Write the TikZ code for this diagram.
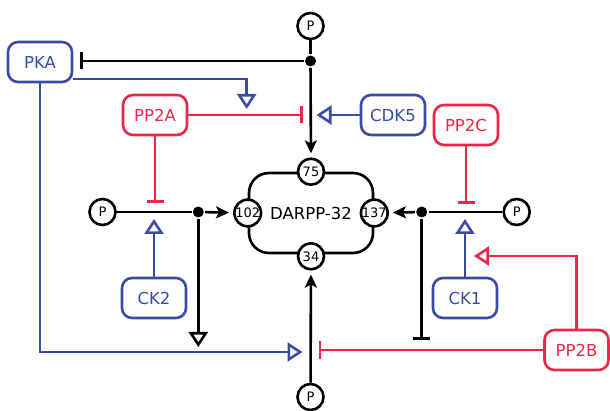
\documentclass[tikz,border=0pt]{standalone}
\usepackage{fontspec}
\setmainfont{DejaVu Sans}
\usetikzlibrary{arrows.meta, positioning, calc}
\definecolor{kinblue}{RGB}{58,76,166}
\definecolor{ppred}{RGB}{236,38,72}

\begin{document}
\begin{tikzpicture}[
    x=1pt, y=-1pt,
    line width=2.6pt,
    kin/.style={draw=kinblue, text=kinblue, rounded corners=10pt, line width=2.6pt, minimum width=64pt, minimum height=40pt, font=\fontsize{16.5}{19}\selectfont},
    pp/.style={kin, draw=ppred, text=ppred},
    site/.style={draw, circle, fill=white, minimum size=26pt, inner sep=0pt, font=\fontsize{13}{15}\selectfont},
    junc/.style={circle, fill=black, minimum size=11pt, inner sep=0pt},
    act/.style={-{Stealth[length=13pt, width=12pt, inset=3pt]}, shorten >=4pt},
    inh/.style={-{Bar[width=17pt]}},
    opn/.style={-{Triangle[open, length=15pt, width=19pt]}}
]
\useasboundingbox (0,0) rectangle (610,411);

% DARPP-32 and its sites
\node[draw, rounded corners=20pt, minimum width=124pt, minimum height=80pt, font=\fontsize{16.5}{19}\selectfont] (darpp) at (311,213) {DARPP-32};
\node[site] (s75) at (darpp.north) {75};
\node[site] (s102) at (darpp.west) {102};
\node[site] (s137) at (darpp.east) {137};
\node[site] (s34) at ([yshift=-2pt]darpp.south) {34};

\node[site] (pTop) at (310.5,26) {P};
\node[junc] (jTop) at (310.5,61) {};
\node[site] (pL) at (102.5,212) {P};
\node[junc] (jL) at (198.3,212) {};
\node[site] (pR) at (516.7,212) {P};
\node[junc] (jR) at (421.7,212) {};
\node[site] (pBot) at (310.5,397) {P};

% kinases and phosphatases
\node[kin] (pka) at (40,62) {PKA};
\node[pp] (pp2a) at (155,115) {PP2A};
\node[kin] (cdk5) at (393,115) {CDK5};
\node[pp] (pp2c) at (466,125) {PP2C};
\node[kin] (ck2) at (154,298) {CK2};
\node[kin] (ck1) at (465,298) {CK1};
\node[pp] (pp2b) at (576.5,350) {PP2B};

\coordinate (pkaHit) at (246.7,116);
\coordinate (pkaLow) at (40,352);
\coordinate (pp2bUp) at (576.5,256);

% Thr75
\draw (pTop) -- (jTop);
\draw[act] (jTop) -- (s75);
\draw[inh, shorten >=7pt] (jTop) -- (jTop -| pka.east);
\draw[opn, kinblue, shorten >=7pt] ([yshift=-17pt]pka.east) -| (pkaHit);
\draw[inh, ppred, shorten >=8pt] (pp2a.east) -- (pp2a.east -| jTop);
\draw[opn, kinblue, shorten >=6pt] (cdk5.west) -- (cdk5.west -| jTop);

% Ser102
\draw (pL) -- (jL);
\draw[act] (jL) -- (s102);
\draw[inh, ppred, shorten >=9pt] (pp2a.south) -- (pp2a.south |- pL);
\draw[opn, kinblue, shorten >=7pt] (ck2.north) -- (ck2.north |- pL);
\draw[opn, shorten >=5pt] (jL) -- (jL |- pkaLow);

% Thr34
\draw[act] (pBot) -- (s34);
\draw[opn, kinblue, shorten >=8pt] (pka.south) -- (pkaLow) -- (pkaLow -| pBot);
\draw[inh, ppred, shorten >=8pt] (pp2b.west) -- (pp2b.west -| pBot);

% Ser137
\draw (pR) -- (jR);
\draw[act] (jR) -- (s137);
\draw[inh, ppred, shorten >=8pt] (pp2c.south) -- (pp2c.south |- pR);
\draw[opn, kinblue, shorten >=7pt] (ck1.north) -- (ck1.north |- pR);
\draw[opn, ppred, shorten >=9pt] (pp2b.north) -- (pp2bUp) -- (pp2bUp -| ck1.north);
\draw[inh, shorten >=10pt] (jR) -- (jR |- pp2b.west);

\end{tikzpicture}
\end{document}
